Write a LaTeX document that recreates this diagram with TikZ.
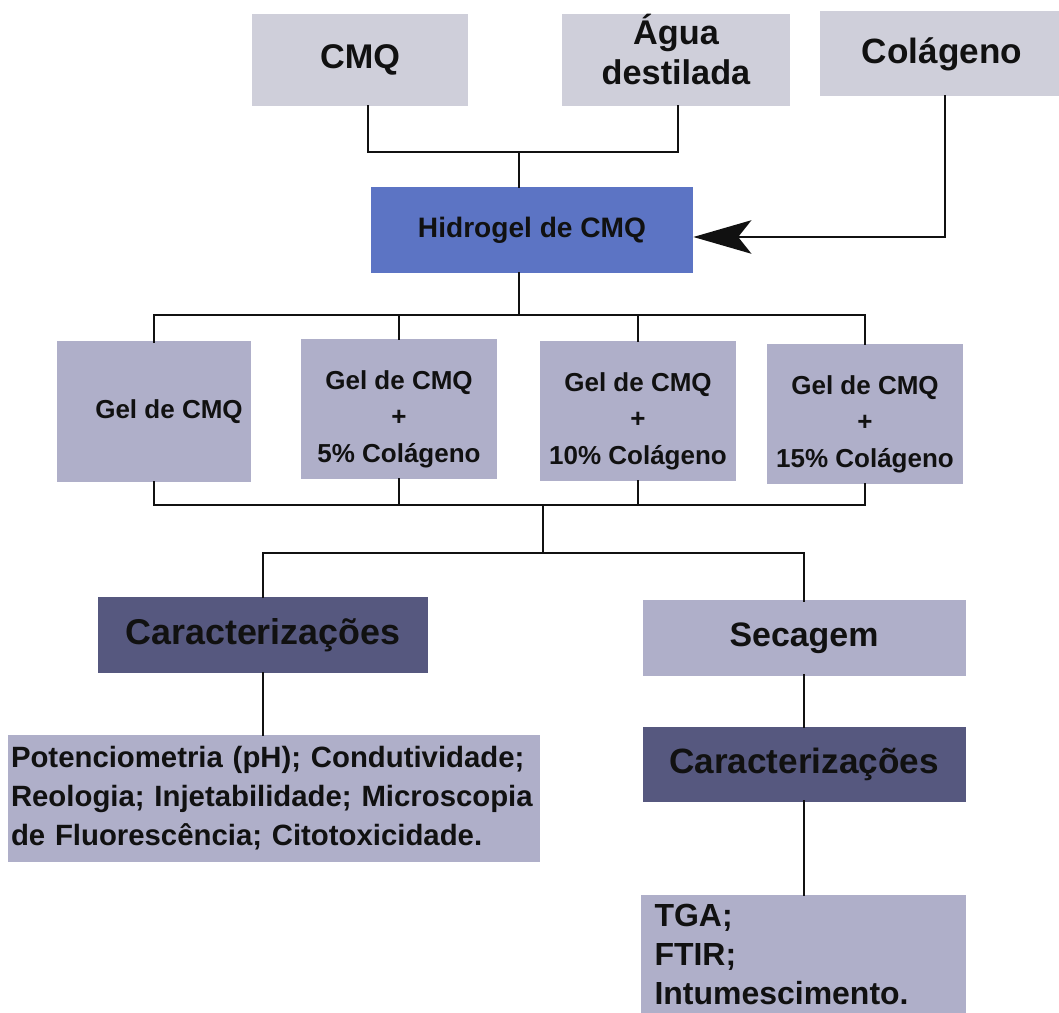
\documentclass[tikz,border=0pt]{standalone}
\usepackage{fontspec}
\setmainfont{Liberation Sans}
\usetikzlibrary{arrows.meta, positioning}
\definecolor{ink}{HTML}{111111}
\definecolor{ptop}{HTML}{CFCFDA}
\definecolor{pgel}{HTML}{AFAFC9}
\definecolor{pblue}{HTML}{5C74C4}
\definecolor{pslate}{HTML}{56587F}
\tikzset{
  box/.style={inner sep=0pt, align=center, text=ink},
  sz/.style 2 args={minimum width=#1*0.02cm, minimum height=#2*0.02cm},
  fs/.style 2 args={font=\fontsize{#1}{#2}\selectfont\bfseries},
  wire/.style={ink, line width=1.6pt, line cap=rect},
}
\begin{document}
\begin{tikzpicture}[x=0.02cm, y=-0.02cm]
  \useasboundingbox (0,0) rectangle (1059,1013);
  % starting materials
  \node[box, fill=ptop, sz={216}{92}, fs={19.5}{23}] (cmq) at (360,60) {CMQ};
  \node[box, fill=ptop, sz={228}{92}, fs={19.5}{23}] (agua) at (676,60) {Água\\destilada\rule[-12pt]{0pt}{0pt}};
  \node[box, fill=ptop, sz={244}{85}, fs={20}{23}] (col) at (942,54) {Colágeno};
  \node[box, fill=pblue, sz={322}{86}, fs={16}{20}] (hid) at (532,230) {Hidrogel de CMQ};
  % gels
  \node[box, fill=pgel, sz={194}{141}, fs={14.8}{20.5}] (g1) at (154,412) {\hspace*{0.6cm}Gel de CMQ};
  \foreach \g/\x/\y/\p in {g2/399/409/5,g3/638/411/10,g4/865/414/15}{
    \node[box, fill=pgel, sz={196}{140}, fs={14.8}{20.8}] (\g) at (\x,\y)
      {\rule{0pt}{22pt}Gel de CMQ\\+\\\p\% Colágeno};}
  % characterisation
  \node[box, fill=pslate, sz={330}{76}, fs={20.4}{22}] (ca1) at (263,635) {Caracterizações};
  \node[box, fill=pgel, sz={323}{75}, fs={19.3}{22}] (sec) at (804,638) {Secagem};
  \node[box, fill=pslate, sz={323}{75}, fs={20}{22}] (ca2) at (804,764) {Caracterizações};
  \node[box, fill=pgel, sz={532}{127}, fs={16.7}{22}, align=left, text width=526*0.02cm,
    inner xsep=3*0.02cm] (l1) at (274,798)
    {Potenciometria (pH); Condutividade;\\Reologia; Injetabilidade; Microscopia\\de Fluorescência; Citotoxicidade.};
  \node[box, fill=pgel, sz={325}{118}, fs={18.2}{22.3}, align=left, text width=297*0.02cm,
    inner xsep=14*0.02cm, anchor=north] (l2) at (803,895)
    {TGA;\\FTIR;\\Intumescimento.};
  % connectors
  \coordinate (topj) at (519,152);
  \draw[wire] ([xshift=0.16cm]cmq.south) |- (topj) -| ([xshift=0.04cm]agua.south);
  \draw[wire] (topj) -- (topj |- hid.north);
  \draw[wire, -{Stealth[length=33pt, width=19pt, inset=7.5pt]}] ([xshift=0.06cm]col.south)
    |- ([yshift=-0.14cm]hid.east);
  \coordinate (hidj) at (519,315);
  \draw[wire] (hidj |- hid.south) -- (hidj);
  \draw[wire] (g1.north |- hidj) -- (g4.north |- hidj);
  \coordinate (gelj) at (543,505);
  \draw[wire] (g1.south |- gelj) -- (g4.south |- gelj);
  \foreach \g in {g1,g2,g3,g4}{
    \draw[wire] (\g.north) -- (\g.north |- hidj);
    \draw[wire] (\g.south) -- (\g.south |- gelj);}
  \coordinate (carj) at (543,553);
  \draw[wire] (gelj) -- (carj);
  \draw[wire] (ca1.north) |- (carj) -| (sec.north);
  \draw[wire] (ca1.south) -- (ca1.south |- l1.north);
  \draw[wire] (sec.south) -- (ca2.north);
  \draw[wire] (ca2.south) -- (ca2.south |- l2.north);
\end{tikzpicture}
\end{document}
